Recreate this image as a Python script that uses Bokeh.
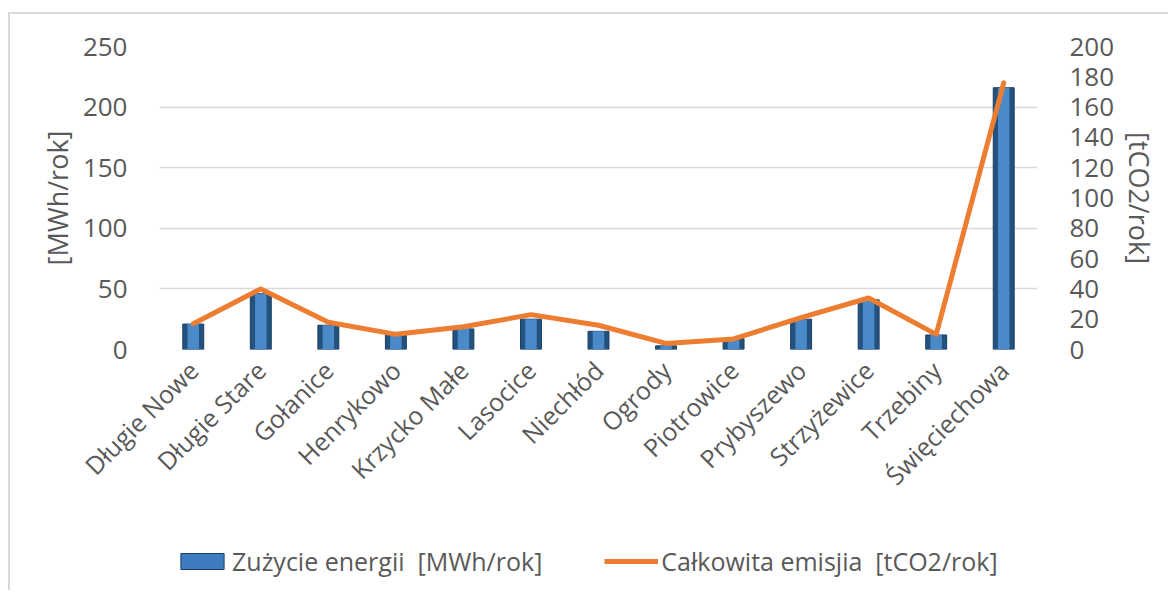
from bokeh.plotting import figure
from bokeh.models import (Range1d, LinearAxis, FixedTicker, Legend, LegendItem,
                          FactorRange)
from bokeh.layouts import column
from bokeh.embed import file_html
from bokeh.resources import INLINE
import math

# ---- data ----
categories = ["Długie Nowe", "Długie Stare", "Gołanice", "Henrykowo", "Krzycko Małe",
              "Lasocice", "Niechłód", "Ogrody", "Piotrowice", "Prybyszewo",
              "Strzyżewice", "Trzebiny", "Święciechowa"]
energy_mwh = [21, 46, 20, 12, 17, 25, 15, 3, 9, 25, 41, 12, 216]
emission_t = [17, 40, 18, 10, 15, 23, 16, 4, 7, 21, 34, 10, 176]
left_ticks = [0, 50, 100, 150, 200, 250]
right_ticks = [0, 20, 40, 60, 80, 100, 120, 140, 160, 180, 200]
series_names = ["Zużycie energii  [MWh/rok]", "Całkowita emisjia  [tCO2/rok]"]
left_title = "[MWh/rok]"
right_title = "[tCO2/rok]"

FONT = "Open Sans"
TXT = "#595959"
BAR_OUT, BAR_EDGE, BAR_IN = "#24527F", "#1B3F63", "#4A8AC9"
BAR_LEG = "#3F7CBF"
LINE_C = "#ED7D31"

W = 1158
p = figure(width=W, height=506, x_range=FactorRange(*categories),
           y_range=Range1d(0, 250), output_backend="svg", toolbar_location=None,
           min_border_left=149, min_border_right=W - 1027, min_border_top=32,
           min_border_bottom=171)
p.outline_line_color = None
p.extra_y_ranges = {"right": Range1d(0, 200)}

# bars: dark outer body + lighter inner face
p.vbar(x=categories, top=energy_mwh, width=0.31, fill_color=BAR_OUT,
       line_color=BAR_EDGE, line_width=1)
p.vbar(x=categories, top=energy_mwh, width=0.17, fill_color=BAR_IN, line_color=None)

p.line(x=categories, y=emission_t, y_range_name="right", line_width=5,
       line_color=LINE_C, line_join="round", line_cap="round")

# axes
p.yaxis.ticker = FixedTicker(ticks=left_ticks)
p.yaxis.axis_label = left_title
ax_r = LinearAxis(y_range_name="right", ticker=FixedTicker(ticks=right_ticks),
                  axis_label=right_title)
p.add_layout(ax_r, "right")

for ax in [p.yaxis[0], ax_r]:
    ax.axis_line_color = None
    ax.major_tick_line_color = None
    ax.minor_tick_line_color = None
    ax.major_label_text_font = FONT
    ax.major_label_text_font_size = "26px"
    ax.major_label_text_color = TXT
    ax.axis_label_text_font = FONT
    ax.axis_label_text_font_size = "27px"
    ax.axis_label_text_font_style = "normal"
    ax.axis_label_text_color = TXT
    ax.axis_label_standoff = 4
p.yaxis[0].major_label_standoff = 26
ax_r.major_label_standoff = 26

xa = p.xaxis[0]
xa.axis_line_color = None
xa.major_tick_line_color = None
xa.minor_tick_line_color = None
xa.major_label_orientation = math.pi / 4
xa.major_label_text_font = FONT
xa.major_label_text_font_size = "25px"
xa.major_label_text_color = TXT
xa.major_label_standoff = 10

p.xgrid.grid_line_color = None
p.ygrid.grid_line_color = "#D9D9D9"
p.ygrid.grid_line_width = 1.5

# legend strip: same series drawn with a y-range far above the data,
# so only their legend entries show
q = figure(width=W, height=70, x_range=FactorRange(*categories),
           y_range=Range1d(1000, 1001), output_backend="svg", toolbar_location=None,
           min_border_left=0, min_border_right=0, min_border_top=0,
           min_border_bottom=0)
q.axis.visible = False
q.grid.visible = False
q.outline_line_color = None
r_bar = q.vbar(x=categories, top=energy_mwh, width=0.31, fill_color=BAR_LEG,
               line_color=BAR_EDGE, line_width=1)
r_line = q.line(x=categories, y=emission_t, line_width=5, line_color=LINE_C)

legend = Legend(items=[LegendItem(label=series_names[0], renderers=[r_bar]),
                       LegendItem(label=series_names[1], renderers=[r_line])],
                orientation="horizontal", location=(16, 12))
legend.label_text_font = FONT
legend.label_text_font_size = "25px"
legend.label_text_color = TXT
legend.glyph_width = 54
legend.glyph_height = 20
legend.label_standoff = 3
legend.spacing = 62
legend.padding = 0
legend.margin = 0
legend.border_line_color = None
legend.background_fill_alpha = 0
q.add_layout(legend, "center")

layout = column(p, q, spacing=0)
layout.styles = {"border-top": "2px solid #D9D9D9", "border-left": "2px solid #D9D9D9",
                 "margin-left": "8px", "margin-top": "12px"}

open("out.html", "w").write(file_html(layout, INLINE))
